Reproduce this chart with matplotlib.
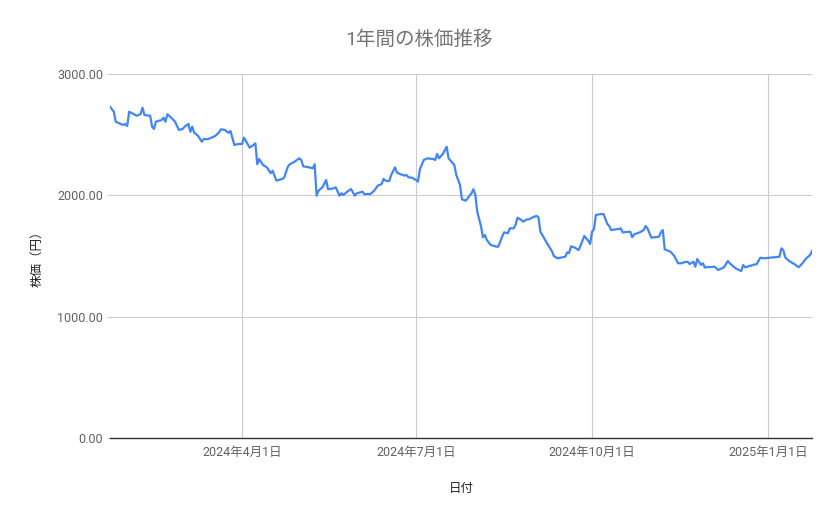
import matplotlib
matplotlib.use("Agg")
import matplotlib.pyplot as plt
import matplotlib.dates as mdates
import matplotlib.ticker as mticker
import pandas as pd

plt.rcParams['font.family'] = ['Roboto', 'Noto Sans CJK JP', 'DejaVu Sans']

title = "1年間の株価推移"
x_label = "日付"
y_label = "株価（円）"
y_ticks = [0, 1000, 2000, 3000]

dates = [
    # 2024-01
    "2024-01-23", "2024-01-25", "2024-01-26", "2024-01-29", "2024-01-30", "2024-01-31",
    # 2024-02
    "2024-02-01", "2024-02-02", "2024-02-06", "2024-02-08", "2024-02-09", "2024-02-10",
    "2024-02-13", "2024-02-14", "2024-02-15", "2024-02-16", "2024-02-19", "2024-02-20",
    "2024-02-21", "2024-02-22", "2024-02-24", "2024-02-26", "2024-02-28",
    # 2024-03
    "2024-03-01", "2024-03-02", "2024-03-04", "2024-03-05", "2024-03-06", "2024-03-07",
    "2024-03-09", "2024-03-11", "2024-03-12", "2024-03-14", "2024-03-18", "2024-03-20",
    "2024-03-21", "2024-03-23", "2024-03-25", "2024-03-26", "2024-03-28", "2024-03-30",
    # 2024-04
    "2024-04-01", "2024-04-02", "2024-04-03", "2024-04-05", "2024-04-07", "2024-04-08",
    "2024-04-09", "2024-04-10", "2024-04-12", "2024-04-14", "2024-04-16", "2024-04-17",
    "2024-04-19", "2024-04-22", "2024-04-23", "2024-04-25", "2024-04-26", "2024-04-28",
    # 2024-05
    "2024-05-01", "2024-05-02", "2024-05-03", "2024-05-06", "2024-05-08", "2024-05-09",
    "2024-05-10", "2024-05-11", "2024-05-13", "2024-05-15", "2024-05-16", "2024-05-19",
    "2024-05-20", "2024-05-22", "2024-05-23", "2024-05-24", "2024-05-26", "2024-05-28",
    "2024-05-30", "2024-05-31",
    # 2024-06
    "2024-06-03", "2024-06-04", "2024-06-06", "2024-06-07", "2024-06-09", "2024-06-11",
    "2024-06-13", "2024-06-14", "2024-06-15", "2024-06-17", "2024-06-18", "2024-06-20",
    "2024-06-21", "2024-06-23", "2024-06-25", "2024-06-26", "2024-06-27", "2024-06-29",
    # 2024-07
    "2024-07-01", "2024-07-02", "2024-07-03", "2024-07-05", "2024-07-07", "2024-07-10",
    "2024-07-11", "2024-07-12", "2024-07-13", "2024-07-15", "2024-07-17", "2024-07-18",
    "2024-07-21", "2024-07-22", "2024-07-24", "2024-07-25", "2024-07-27", "2024-07-28",
    "2024-07-30", "2024-07-31",
    # 2024-08
    "2024-08-01", "2024-08-02", "2024-08-04", "2024-08-05", "2024-08-06", "2024-08-07",
    "2024-08-09", "2024-08-12", "2024-08-13", "2024-08-15", "2024-08-16", "2024-08-18",
    "2024-08-19", "2024-08-21", "2024-08-22", "2024-08-23", "2024-08-25", "2024-08-26",
    "2024-08-28", "2024-08-29", "2024-08-31",
    # 2024-09
    "2024-09-02", "2024-09-03", "2024-09-04", "2024-09-06", "2024-09-08", "2024-09-10",
    "2024-09-11", "2024-09-13", "2024-09-17", "2024-09-18", "2024-09-19", "2024-09-20",
    "2024-09-22", "2024-09-24", "2024-09-27", "2024-09-29", "2024-09-30",
    # 2024-10
    "2024-10-01", "2024-10-02", "2024-10-03", "2024-10-05", "2024-10-07", "2024-10-09",
    "2024-10-10", "2024-10-11", "2024-10-15", "2024-10-16", "2024-10-17", "2024-10-21",
    "2024-10-22", "2024-10-23", "2024-10-26", "2024-10-28", "2024-10-29", "2024-10-30",
    # 2024-11
    "2024-11-01", "2024-11-05", "2024-11-06", "2024-11-07", "2024-11-08", "2024-11-11",
    "2024-11-13", "2024-11-15", "2024-11-17", "2024-11-18", "2024-11-20", "2024-11-21",
    "2024-11-23", "2024-11-24", "2024-11-25", "2024-11-27", "2024-11-28", "2024-11-29",
    "2024-11-30",
    # 2024-12
    "2024-12-02", "2024-12-04", "2024-12-06", "2024-12-09", "2024-12-11", "2024-12-12",
    "2024-12-15", "2024-12-18", "2024-12-19", "2024-12-20", "2024-12-23", "2024-12-25",
    "2024-12-26", "2024-12-28", "2024-12-30",
    # 2025-01
    "2025-01-02", "2025-01-07", "2025-01-08", "2025-01-09", "2025-01-10", "2025-01-12",
    "2025-01-15", "2025-01-17", "2025-01-19", "2025-01-21", "2025-01-23", "2025-01-24",
]

prices = [
    2730, 2689, 2607, 2585, 2580, 2588,
    2571, 2689, 2656, 2670, 2722, 2662, 2656, 2566, 2547, 2607, 2621, 2640,
    2607, 2668, 2640, 2607, 2539,
    2547, 2566, 2588, 2524, 2566, 2516, 2491, 2442, 2464, 2462, 2489, 2519,
    2544, 2539, 2515, 2530, 2415, 2423,
    2423, 2475, 2450, 2393, 2415, 2429, 2256, 2299, 2250, 2231, 2182, 2203,
    2121, 2135, 2145, 2236, 2256, 2272,
    2305, 2291, 2239, 2231, 2223, 2256, 1997, 2038, 2066, 2126, 2050, 2058,
    2066, 1997, 2017, 2003, 2030, 2052, 1997, 2017,
    2030, 2009, 2011, 2009, 2036, 2080, 2093, 2135, 2121, 2118, 2168, 2231,
    2187, 2173, 2162, 2168, 2149, 2145,
    2126, 2113, 2215, 2291, 2305, 2299, 2291, 2341, 2305, 2341, 2401, 2305,
    2250, 2170, 2085, 1967, 1956, 1976, 2017, 2050,
    2003, 1865, 1742, 1654, 1673, 1632, 1591, 1577, 1577, 1659, 1695, 1687,
    1728, 1728, 1755, 1816, 1797, 1783, 1802, 1802, 1819,
    1830, 1819, 1700, 1646, 1591, 1541, 1500, 1481, 1494, 1530, 1524, 1580,
    1569, 1549, 1665, 1626, 1599,
    1700, 1720, 1838, 1844, 1846, 1764, 1747, 1714, 1723, 1728, 1695, 1700,
    1654, 1679, 1695, 1714, 1747, 1728,
    1651, 1659, 1695, 1714, 1555, 1536, 1500, 1440, 1440, 1448, 1453, 1434,
    1453, 1412, 1475, 1426, 1440, 1404, 1409,
    1409, 1412, 1385, 1407, 1459, 1440, 1399, 1376, 1426, 1407, 1420, 1431,
    1431, 1486, 1481,
    1486, 1494, 1563, 1549, 1489, 1459, 1431, 1407, 1440, 1481, 1508, 1541,
]

x = pd.to_datetime(dates)

fig = plt.figure(figsize=(8.39, 5.19), dpi=100)
ax = fig.add_axes([110 / 839, 1 - 438 / 519, 702 / 839, 364 / 519])

ax.plot(x, prices, color="#4285F4", linewidth=1.6, solid_joinstyle="round")

ax.set_xlim(x[0], x[-1])
ax.set_ylim(y_ticks[0], y_ticks[-1])
ax.set_yticks(y_ticks)
ax.yaxis.set_major_formatter(mticker.FuncFormatter(lambda v, p: f"{v:.2f}"))

ax.xaxis.set_major_locator(mdates.MonthLocator(bymonth=[1, 4, 7, 10]))
ax.xaxis.set_major_formatter(mticker.FuncFormatter(
    lambda v, p: (lambda d: f"{d.year}年{d.month}月{d.day}日")(mdates.num2date(v))))

ax.grid(True, color="#cccccc", linewidth=0.8)
ax.set_axisbelow(True)
for s in ["top", "right", "left"]:
    ax.spines[s].set_visible(False)
ax.spines["bottom"].set_color("#333333")
ax.spines["bottom"].set_linewidth(1.0)

ax.tick_params(axis="y", length=2.5, color="#cccccc", width=0.8, labelsize=9,
               labelcolor="#616161", pad=2.5)
ax.tick_params(axis="x", length=0, labelsize=9, labelcolor="#616161", pad=6)

fig.text(0.5, 1 - 40 / 519, title, fontsize=14, color="#757575",
         ha="center", va="center")
ax.set_xlabel(x_label, fontsize=9, color="#222222", labelpad=16)
ax.set_ylabel(y_label, fontsize=9, color="#222222", labelpad=10)

fig.savefig("out.png", dpi=100, facecolor="white")
